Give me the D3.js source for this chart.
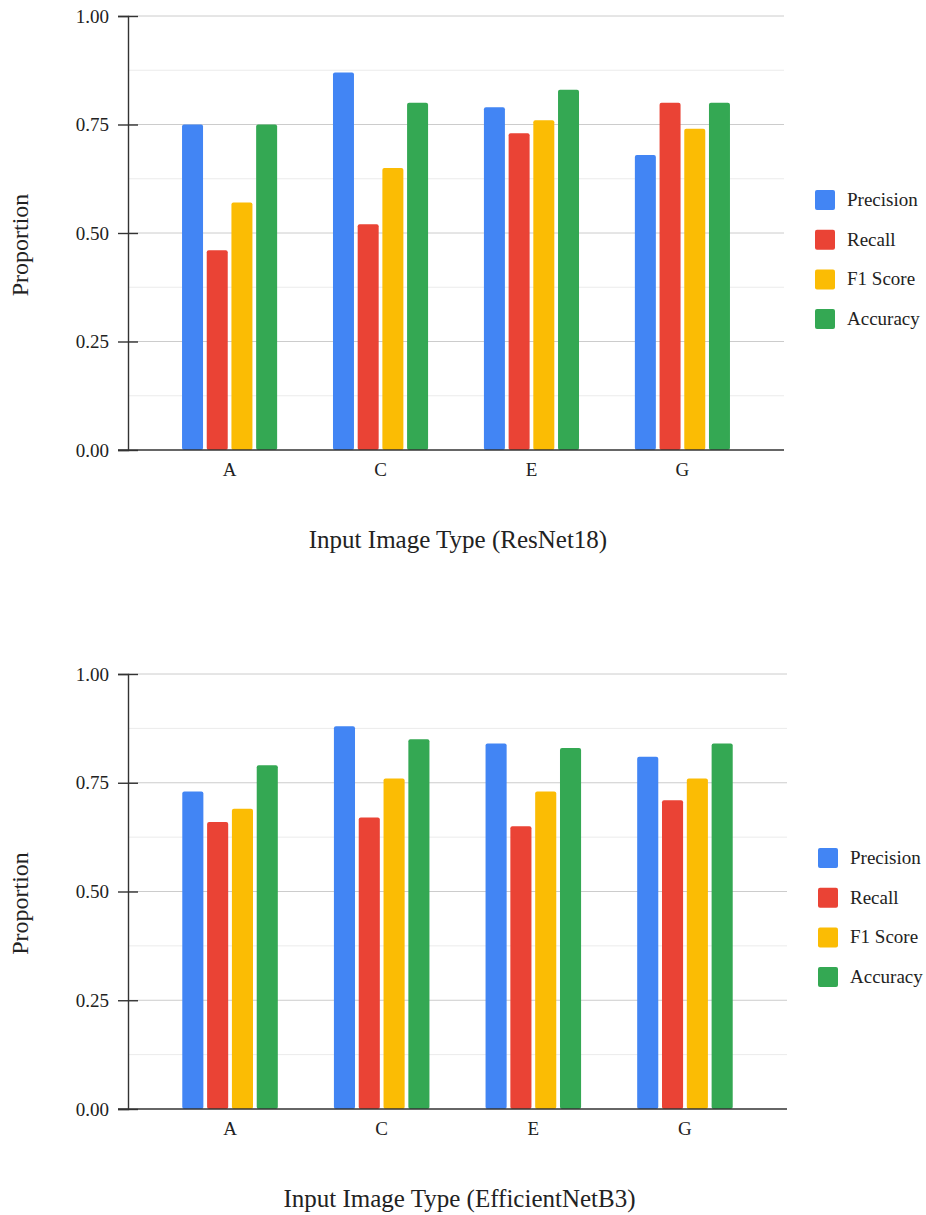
<!DOCTYPE html>
<html>
<head>
<meta charset="utf-8">
<script src="https://cdn.jsdelivr.net/npm/d3@7"></script>
<style>
  html, body { margin: 0; padding: 0; background: #fff; }
  svg { display: block; }
  text { font-family: "Liberation Serif", "Times New Roman", serif; fill: #222; }
</style>
</head>
<body>
<svg id="chart" width="926" height="1215"></svg>
<script>
// Image categories along the x axis
const categories = ["A", "C", "E", "G"];

// Metric series, legend order
const metrics = ["Precision", "Recall", "F1 Score", "Accuracy"];
const metricColors = ["#4285F4", "#EA4335", "#FBBC04", "#34A853"];

// Axis ticks
const yTickValues = [0, 0.25, 0.5, 0.75, 1];
const yMinorGrid = [0.125, 0.375, 0.625, 0.875];

// ResNet18 results, one value per category
const resnetPrecision = [0.75, 0.87, 0.79, 0.68];
const resnetRecall    = [0.46, 0.52, 0.73, 0.80];
const resnetF1        = [0.57, 0.65, 0.76, 0.74];
const resnetAccuracy  = [0.75, 0.80, 0.83, 0.80];

// EfficientNetB3 results, one value per category
const effPrecision = [0.73, 0.88, 0.84, 0.81];
const effRecall    = [0.66, 0.67, 0.65, 0.71];
const effF1        = [0.69, 0.76, 0.73, 0.76];
const effAccuracy  = [0.79, 0.85, 0.83, 0.84];

const svg = d3.select("#chart");

function drawPanel(opts) {
  const { series, xTitle, left, right, top, bottom, legendX, legendY } = opts;
  const g = svg.append("g");

  const y = d3.scaleLinear().domain([0, 1]).range([bottom, top]);
  const x = d3.scaleBand().domain(categories).range([left, right])
    .paddingInner(0.37).paddingOuter(0.358);
  const xInner = d3.scaleBand().domain(metrics).range([0, x.bandwidth()])
    .paddingInner(0.15).paddingOuter(0);

  // minor gridlines
  g.append("g").selectAll("line").data(yMinorGrid).join("line")
    .attr("x1", left).attr("x2", right)
    .attr("y1", d => y(d)).attr("y2", d => y(d))
    .attr("stroke", "#ebebeb").attr("stroke-width", 1);

  // major gridlines
  g.append("g").selectAll("line").data(yTickValues.filter(d => d > 0)).join("line")
    .attr("x1", left).attr("x2", right)
    .attr("y1", d => y(d)).attr("y2", d => y(d))
    .attr("stroke", "#cccccc").attr("stroke-width", 1);

  // bars
  const rows = categories.map((c, i) => ({
    cat: c,
    vals: metrics.map((m, j) => ({ metric: m, value: series[j][i], color: metricColors[j] }))
  }));
  g.append("g").selectAll("g").data(rows).join("g")
    .attr("transform", d => `translate(${x(d.cat)},0)`)
    .selectAll("rect").data(d => d.vals).join("rect")
    .attr("x", d => xInner(d.metric))
    .attr("width", xInner.bandwidth())
    .attr("y", d => y(d.value))
    .attr("height", d => y(0) - y(d.value))
    .attr("rx", 2).attr("ry", 2)
    .attr("fill", d => d.color);

  // y axis
  const yAxis = g.append("g")
    .attr("transform", `translate(${left},0)`)
    .call(d3.axisLeft(y).tickValues(yTickValues).tickFormat(d3.format(".2f"))
      .tickSize(10).tickPadding(9));
  yAxis.select(".domain").attr("stroke", "#333").attr("stroke-width", 1.4);
  yAxis.selectAll(".tick line").attr("x1", -10).attr("x2", 10)
    .attr("stroke", "#333").attr("stroke-width", 1.4);
  yAxis.selectAll(".tick text").style("font-size", "19px")
    .style("font-family", '"Liberation Serif", serif').attr("fill", "#222");

  // baseline
  g.append("line")
    .attr("x1", left - 10).attr("x2", right)
    .attr("y1", y(0)).attr("y2", y(0))
    .attr("stroke", "#333").attr("stroke-width", 1.4);

  // x axis labels
  const xAxis = g.append("g")
    .attr("transform", `translate(0,${bottom})`)
    .call(d3.axisBottom(x).tickSize(0).tickPadding(13));
  xAxis.select(".domain").remove();
  xAxis.selectAll(".tick text").style("font-size", "19px")
    .style("font-family", '"Liberation Serif", serif').attr("fill", "#222");

  // axis titles
  g.append("text")
    .attr("x", (left + right) / 2 + 2)
    .attr("y", bottom + 98)
    .attr("text-anchor", "middle")
    .style("font-size", "25px")
    .text(xTitle);

  g.append("text")
    .attr("transform", `translate(28,${(top + bottom) / 2 + 12}) rotate(-90)`)
    .attr("text-anchor", "middle")
    .style("font-size", "24px")
    .text("Proportion");

  // legend
  const leg = g.append("g").attr("transform", `translate(${legendX},${legendY})`);
  const items = leg.selectAll("g").data(metrics).join("g")
    .attr("transform", (d, i) => `translate(0,${i * 39.7})`);
  items.append("rect")
    .attr("width", 20).attr("height", 20).attr("rx", 2)
    .attr("fill", (d, i) => metricColors[i]);
  items.append("text")
    .attr("x", 32).attr("y", 16)
    .style("font-size", "19px")
    .text(d => d);
}

drawPanel({
  series: [resnetPrecision, resnetRecall, resnetF1, resnetAccuracy],
  xTitle: "Input Image Type (ResNet18)",
  left: 128, right: 784, top: 16, bottom: 450,
  legendX: 815, legendY: 190
});

drawPanel({
  series: [effPrecision, effRecall, effF1, effAccuracy],
  xTitle: "Input Image Type (EfficientNetB3)",
  left: 128, right: 787, top: 674, bottom: 1109,
  legendX: 818, legendY: 848
});
</script>
</body>
</html>
